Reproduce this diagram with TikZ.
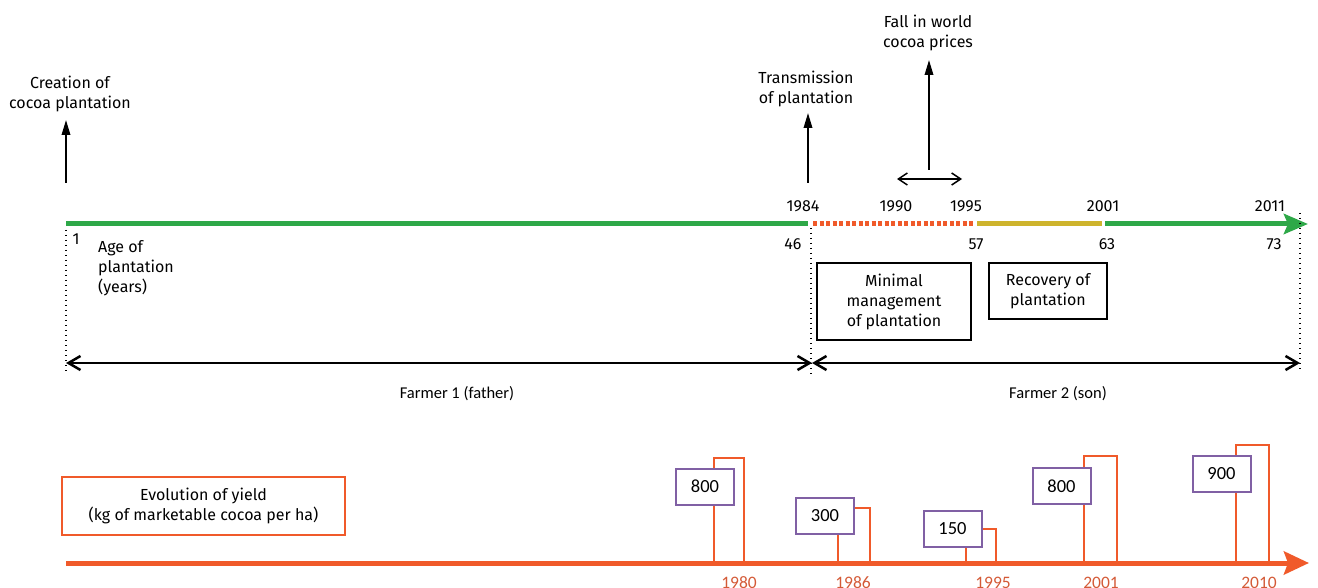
\documentclass[tikz,border=0pt]{standalone}
\usepackage{fontspec}
\setmainfont{Fira Sans}
\newfontfamily\yieldfont{Carlito}
\usetikzlibrary{arrows.meta}

\definecolor{plantgreen}{RGB}{46,168,72}
\definecolor{plantyellow}{RGB}{206,180,45}
\definecolor{cocoared}{RGB}{240,90,42}
\definecolor{yieldpurple}{RGB}{128,96,164}
\definecolor{yeartext}{RGB}{212,90,55}

\begin{document}
\begin{tikzpicture}[x=1pt,y=-1pt,
  every node/.style={font=\fontsize{16}{20}\selectfont, align=center, inner sep=0pt},
  stage/.style={line width=5pt},
  dotline/.style={line width=1.5pt, dash pattern=on 1.3pt off 3.7pt},
  eventarrow/.style={line width=1.8pt, -{Triangle[length=15pt,width=8.5pt]}},
  spanarrow/.style={line width=2.5pt, {Straight Barb[length=12pt,width=14pt]}-{Straight Barb[length=12pt,width=14pt]}},
  labelbox/.style={draw, line width=1.6pt, inner sep=0pt},
  bar/.style={draw=cocoared, line width=2pt},
  yieldbox/.style={draw=yieldpurple, fill=white, line width=2pt, minimum width=58pt, minimum height=36pt, font=\yieldfont\fontsize{18.5}{20}\selectfont},
  farmer/.style={font=\yieldfont\fontsize{16.5}{20}\selectfont, anchor=base},
  yearlow/.style={font=\yieldfont\fontsize{17.5}{20}\selectfont, text=yeartext, anchor=base},
  yeartop/.style={anchor=base}]
  \useasboundingbox (0,0) rectangle (1318,588);

  % vertices
  \coordinate (t0) at (66,224);
  \coordinate (t84) at (808,224);
  \coordinate (t84b) at (813,224);
  \coordinate (t95) at (974,224);
  \coordinate (t95b) at (977,224);
  \coordinate (t01) at (1102,224);
  \coordinate (t01b) at (1105,224);
  \coordinate (tend) at (1308,224);

  % plantation timeline
  \draw[stage, plantgreen] (t0) -- (t84);
  \draw[stage, cocoared, dash pattern=on 4.3pt off 2.2pt] (t84b) -- (t95);
  \draw[stage, plantyellow] (t95b) -- (t01);
  \draw[stage, plantgreen, -{Stealth[length=24pt,width=20pt,inset=4pt]}] (t01b) -- (tend);

  % dotted limits
  \coordinate (d0a) at (66,230);   \coordinate (d0b) at (66,372);
  \coordinate (d1a) at (811,228);  \coordinate (d1b) at (811,375);
  \coordinate (d2a) at (1300,213); \coordinate (d2b) at (1300,372);
  \draw[dotline] (d0a) -- (d0b);
  \draw[dotline] (d1a) -- (d1b);
  \draw[dotline] (d2a) -- (d2b);

  % events
  \node (creation) at (70,94) {Creation of\\cocoa plantation};
  \node (transmission) at (806,89) {Transmission\\of plantation};
  \node (fall) at (928,33) {Fall in world\\cocoa prices};
  \coordinate (e1) at (66,183);  \coordinate (e1t) at (66,120);
  \coordinate (e2) at (808,183); \coordinate (e2t) at (808,113);
  \coordinate (e3) at (929,170); \coordinate (e3t) at (929,60);
  \draw[eventarrow] (e1) -- (e1t);
  \draw[eventarrow] (e2) -- (e2t);
  \draw[eventarrow] (e3) -- (e3t);
  \coordinate (p90) at (897,179); \coordinate (p95) at (962,179);
  \draw[line width=1.5pt, {Straight Barb[length=9pt,width=12pt]}-{Straight Barb[length=9pt,width=12pt]}] (p90) -- (p95);

  % years and ages
  \node[yeartop] (y84) at (803,212) {1984};
  \node[yeartop] (y90) at (896,212) {1990};
  \node[yeartop] (y95) at (966,212) {1995};
  \node[yeartop] (y01) at (1103,212) {2001};
  \node[yeartop] (y11) at (1270,212) {2011};
  \node[anchor=base] (a1) at (76,245) {1};
  \node[anchor=base] (a46) at (793,250) {46};
  \node[anchor=base] (a57) at (976,250) {57};
  \node[anchor=base] (a63) at (1107,250) {63};
  \node[anchor=base] (a73) at (1274,250) {73};
  \node[anchor=west, align=left] (age) at (98,268) {Age of\\plantation\\(years)};

  % phases
  \node[labelbox, minimum width=154pt, minimum height=77pt] (minimal) at (894,301.5) {Minimal\\management\\of plantation};
  \node[labelbox, minimum width=118pt, minimum height=56pt] (recovery) at (1048,291) {Recovery of\\plantation};

  % farmers
  \coordinate (f0) at (66,363);
  \coordinate (f1) at (812,363);
  \coordinate (f2) at (1300,363);
  \draw[spanarrow] (f0) -- (f1);
  \draw[spanarrow] (f1) -- (f2);
  \node[farmer] (farmer1) at (457,398) {Farmer 1 (father)};
  \node[farmer] (farmer2) at (1058,398) {Farmer 2 (son)};

  % yield
  \node[draw=cocoared, line width=1.6pt, minimum width=283pt, minimum height=58pt] (yield) at (203.5,506) {Evolution of yield\\(kg of marketable cocoa per ha)};
  \coordinate (x0) at (66,563);
  \coordinate (xend) at (1309,563);
  \draw[line width=5pt, cocoared, -{Stealth[length=25pt,width=23pt,inset=4pt]}] (x0) -- (xend);
  \draw[bar] (714,563) |- (744,458) -- (744,563);
  \draw[bar] (838,563) |- (870,508) -- (870,563);
  \draw[bar] (966,563) |- (996,529) -- (996,563);
  \draw[bar] (1084,563) |- (1117,456) -- (1117,563);
  \draw[bar] (1236,563) |- (1269,445) -- (1269,563);
  \node[yieldbox] (v80) at (705,486.5) {800};
  \node[yieldbox] (v86) at (825,516) {300};
  \node[yieldbox] (v95) at (952.5,529) {150};
  \node[yieldbox] (v01) at (1061.5,486) {800};
  \node[yieldbox] (v10) at (1221.5,474) {900};
  \node[yearlow] (l80) at (739,588) {1980};
  \node[yearlow] (l86) at (853,588) {1986};
  \node[yearlow] (l95) at (993,588) {1995};
  \node[yearlow] (l01) at (1101,588) {2001};
  \node[yearlow] (l10) at (1259,588) {2010};
\end{tikzpicture}
\end{document}
